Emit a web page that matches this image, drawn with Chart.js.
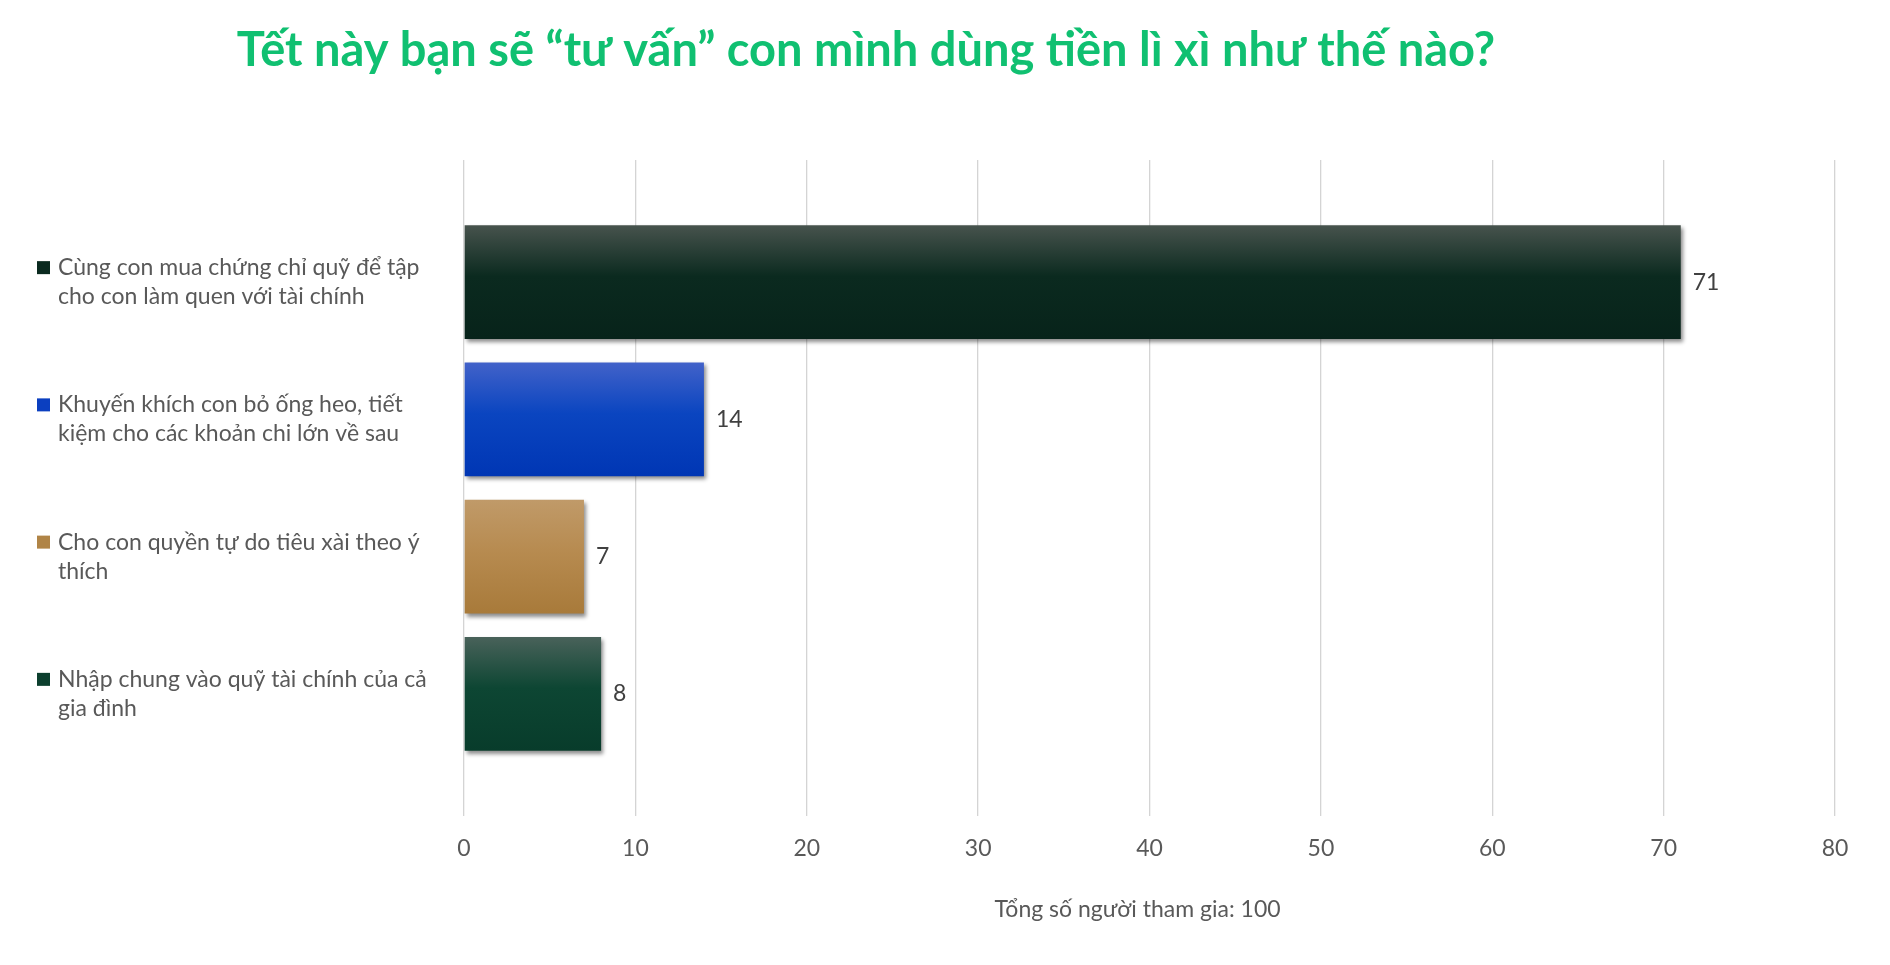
<!DOCTYPE html>
<html>
<head>
<meta charset="utf-8">
<script src="https://cdn.jsdelivr.net/npm/chart.js@4.4.1/dist/chart.umd.min.js"></script>
<style>
  html, body { margin: 0; padding: 0; background: #ffffff; }
  #wrap { width: 1890px; height: 965px; position: relative; }
</style>
</head>
<body>
<div id="wrap"><canvas id="chart"></canvas></div>
<script>
// ---- data ----
const chartTitle = 'Tết này bạn sẽ “tư vấn” con mình dùng tiền lì xì như thế nào?';
const categories = [
  ['Cùng con mua chứng chỉ quỹ để tập', 'cho con làm quen với tài chính'],
  ['Khuyến khích con bỏ ống heo, tiết', 'kiệm cho các khoản chi lớn về sau'],
  ['Cho con quyền tự do tiêu xài theo ý', 'thích'],
  ['Nhập chung vào quỹ tài chính của cả', 'gia đình']
];
const values = [71, 14, 7, 8];
const xTickValues = [0, 10, 20, 30, 40, 50, 60, 70, 80];
const xAxisTitle = 'Tổng số người tham gia: 100';

// ---- styles ----
const topColors = ['#47534d', '#4262c9', '#c09a69', '#49625a'];
const midColors = ['#0b2a1f', '#0a45c0', '#b78b50', '#0d4633'];
const bottomColors = ['#07231a', '#0036b4', '#a87a3a', '#083c2b'];
const swatchColors = ['#0a2a1f', '#0b3fc0', '#b08446', '#0c3f2e'];
const FONT = 'Lato';
const BAR_PCT = 0.83;

function barGradient(ctx) {
  const chart = ctx.chart;
  const i = ctx.dataIndex;
  if (!chart.chartArea || !chart.scales.y) return bottomColors[i];
  const ys = chart.scales.y;
  const yc = ys.getPixelForValue(i);
  const half = Math.abs(ys.getPixelForValue(1) - ys.getPixelForValue(0)) * BAR_PCT / 2;
  const g = chart.ctx.createLinearGradient(0, yc - half, 0, yc + half);
  g.addColorStop(0, topColors[i]);
  g.addColorStop(0.45, midColors[i]);
  g.addColorStop(1, bottomColors[i]);
  return g;
}

const shadowPlugin = {
  id: 'barShadow',
  beforeDatasetsDraw(chart) {
    const c = chart.ctx;
    c.save();
    c.shadowColor = 'rgba(0,0,0,0.45)';
    c.shadowOffsetX = 2;
    c.shadowOffsetY = 3;
    c.shadowBlur = 4;
  },
  afterDatasetsDraw(chart) {
    chart.ctx.restore();
    // value labels
    const c = chart.ctx;
    const meta = chart.getDatasetMeta(0);
    c.save();
    c.font = '23px ' + FONT;
    c.fillStyle = '#404040';
    c.textAlign = 'left';
    c.textBaseline = 'middle';
    meta.data.forEach((bar, i) => {
      c.fillText(String(values[i]), bar.x + 12, bar.y);
    });
    c.restore();
  }
};

const decorPlugin = {
  id: 'decor',
  afterDraw(chart) {
    const c = chart.ctx;
    const ys = chart.scales.y;
    const xs = chart.scales.x;
    const lh = 29;
    c.save();
    // legend swatches beside category labels
    categories.forEach((lines, i) => {
      const yc = ys.getPixelForValue(i) - (lines.length - 1) * lh / 2;
      c.fillStyle = swatchColors[i];
      c.fillRect(ys.left - 21, yc - 6.5, 13, 13);
    });
    // axis title
    c.font = '23px ' + FONT;
    c.fillStyle = '#595959';
    c.textAlign = 'center';
    c.textBaseline = 'middle';
    c.fillText(xAxisTitle, (xs.left + xs.right) / 2 - 12, xs.top + 94);
    // title
    c.font = 'bold 47px ' + FONT;
    c.fillStyle = '#10c071';
    c.fillText(chartTitle, 866, 51);
    c.restore();
  }
};

new Chart(document.getElementById('chart'), {
  type: 'bar',
  data: {
    datasets: [{
      data: values.map((v, i) => ({ x: v, y: i })),
      backgroundColor: barGradient,
      borderWidth: 0,
      categoryPercentage: 1,
      barPercentage: BAR_PCT
    }]
  },
  options: {
    indexAxis: 'y',
    responsive: true,
    maintainAspectRatio: false,
    animation: false,
    layout: { padding: { left: 58, right: 55, top: 160, bottom: 0 } },
    plugins: {
      legend: { display: false },
      tooltip: { enabled: false },
      title: { display: false }
    },
    scales: {
      x: {
        type: 'linear',
        min: 0,
        max: 80,
        afterBuildTicks: (s) => { s.ticks = xTickValues.map(v => ({ value: v })); },
        grid: { color: '#d4d4d4', lineWidth: 1.3, drawTicks: false },
        border: { display: false },
        ticks: { color: '#595959', font: { family: FONT, size: 23 }, padding: 19 },
        afterFit: (s) => { s.height = 149; }
      },
      y: {
        type: 'linear',
        offset: false,
        min: -0.89,
        max: 3.89,
        reverse: true,
        afterBuildTicks: (s) => { s.ticks = categories.map((_, i) => ({ value: i })); },
        grid: { display: false, offset: false },
        border: { display: false },
        ticks: {
          color: '#595959',
          font: { family: FONT, size: 23, lineHeight: 29 / 23 },
          crossAlign: 'far',
          padding: 0,
          callback: (v) => categories[v]
        },
        afterFit: (s) => { s.width = 406; }
      }
    }
  },
  plugins: [shadowPlugin, decorPlugin]
});
</script>
</body>
</html>
